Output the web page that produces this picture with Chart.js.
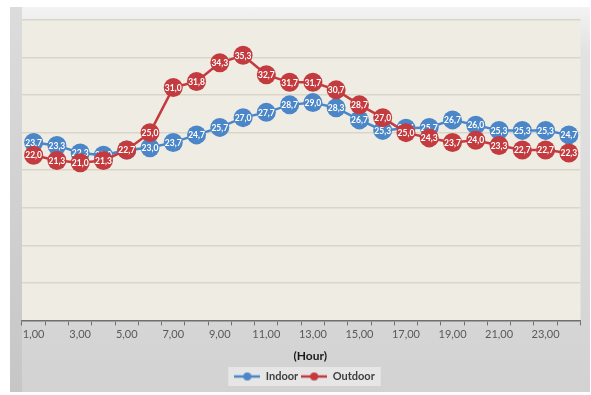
<!DOCTYPE html>
<html>
<head>
<meta charset="utf-8">
<script src="https://cdn.jsdelivr.net/npm/chart.js@4.4.0/dist/chart.umd.min.js"></script>
<style>
  html, body { margin: 0; padding: 0; background: #ffffff; width: 591px; height: 395px; overflow: hidden; }
  #frame {
    position: absolute; left: 10px; top: 7px; width: 580px; height: 385px;
    background: linear-gradient(to bottom, #f3f3f3 0%, #e2e2e2 12%, #dadada 60%, #d2d2d2 100%);
  }
  #frame:before {
    content: ""; position: absolute; left: 0; top: 0; width: 12px; height: 100%;
    background: linear-gradient(to bottom, #dcdcdc, #c6c6c6);
  }
  canvas { position: absolute; left: 0; top: 0; }
</style>
</head>
<body>
<div id="frame"><canvas id="c" width="580" height="385"></canvas></div>
<script>
const hours = [1,2,3,4,5,6,7,8,9,10,11,12,13,14,15,16,17,18,19,20,21,22,23,24];
const indoor = [23.7,23.3,22.3,22.0,22.7,23.0,23.7,24.7,25.7,27.0,27.7,28.7,29.0,28.3,26.7,25.3,25.6,25.7,26.7,26.0,25.3,25.3,25.3,24.7];
const outdoor = [22.0,21.3,21.0,21.3,22.7,25.0,31.0,31.8,34.3,35.3,32.7,31.7,31.7,30.7,28.7,27.0,25.0,24.3,23.7,24.0,23.3,22.7,22.7,22.3];
const seriesNames = ['Indoor','Outdoor'];
const xTitle = '(Hour)';
const yMin = 0, yMax = 40, yStep = 5;

const BLUE = '#4a86c8';
const RED = '#c33b3e';
const fmt = v => v.toFixed(1).replace('.', ',');
const fmtHour = h => h.toFixed(2).replace('.', ',');

function legendIcon(color) {
  const c = document.createElement('canvas');
  c.width = 26; c.height = 10;
  const g = c.getContext('2d');
  g.strokeStyle = color; g.lineWidth = 2.5;
  g.beginPath(); g.moveTo(0, 5); g.lineTo(26, 5); g.stroke();
  g.fillStyle = color;
  g.beginPath(); g.arc(13, 5, 4, 0, Math.PI * 2); g.fill();
  return c;
}

const bgPlugin = {
  id: 'bg',
  beforeDraw(chart) {
    const { ctx, chartArea: a } = chart;
    ctx.save();
    ctx.fillStyle = '#efece3';
    ctx.fillRect(a.left, a.top, a.right - a.left, a.bottom - a.top);
    const L = chart.legend;
    if (L && L.legendHitBoxes && L.legendHitBoxes.length) {
      const hb = L.legendHitBoxes;
      const l = Math.min(...hb.map(h => h.left)) - 6;
      const r = Math.max(...hb.map(h => h.left + h.width)) + 6;
      const t = Math.min(...hb.map(h => h.top)) - 4;
      const b = Math.max(...hb.map(h => h.top + h.height)) + 4;
      ctx.fillStyle = '#e6e6e6';
      ctx.fillRect(l, t, r - l, b - t);
    }
    ctx.restore();
  }
};

const labelPlugin = {
  id: 'vals',
  afterDatasetDraw(chart, args) {
    const { ctx } = chart;
    const ds = chart.data.datasets[args.index];
    ctx.save();
    ctx.font = 'bold 8.5px Lato';
    ctx.fillStyle = '#ffffff';
    ctx.textAlign = 'center';
    ctx.textBaseline = 'middle';
    args.meta.data.forEach((pt, i) => ctx.fillText(fmt(ds.data[i]), pt.x, pt.y + 0.5));
    ctx.restore();
  }
};

new Chart(document.getElementById('c'), {
  type: 'line',
  data: {
    labels: hours.map(fmtHour),
    datasets: [
      { label: seriesNames[0], data: indoor, borderColor: BLUE, backgroundColor: BLUE,
        borderWidth: 2.5, pointRadius: 9.5, pointBorderWidth: 0, pointBackgroundColor: BLUE,
        pointStyle: 'circle', order: 1, tension: 0, legendIcon: legendIcon(BLUE) },
      { label: seriesNames[1], data: outdoor, borderColor: RED, backgroundColor: RED,
        borderWidth: 2.5, pointRadius: 9.5, pointBorderWidth: 0, pointBackgroundColor: RED,
        pointStyle: 'circle', order: 0, tension: 0, legendIcon: legendIcon(RED) }
    ]
  },
  options: {
    responsive: false,
    animation: false,
    devicePixelRatio: 1,
    layout: { padding: { left: 12, right: 3, top: 13, bottom: 0 } },
    plugins: {
      tooltip: { enabled: false },
      legend: {
        position: 'bottom',
        labels: {
          sort: (a, b) => a.datasetIndex - b.datasetIndex,
          usePointStyle: true,
          pointStyleWidth: 26,
          padding: 3,
          boxHeight: 10,
          color: '#404040',
          font: { family: 'Lato', size: 11, weight: 'bold' },
          generateLabels(chart) {
            return chart.data.datasets.map((d, i) => ({
              text: d.label, datasetIndex: i, pointStyle: d.legendIcon,
              fillStyle: d.borderColor, strokeStyle: d.borderColor, lineWidth: 0,
              fontColor: '#404040', hidden: false
            }));
          }
        }
      }
    },
    scales: {
      x: {
        offset: true,
        grid: { offset: true, drawOnChartArea: false, drawTicks: true, tickLength: 5, color: '#6f6f6f', lineWidth: 1 },
        border: { display: true, color: '#6f6f6f', width: 1.5 },
        ticks: {
          autoSkip: false, maxRotation: 0, padding: 2,
          color: '#595959', font: { family: 'Lato', size: 11 },
          callback: function(v, i) { return i % 2 === 0 ? this.getLabelForValue(v) : ''; }
        },
        title: { display: true, text: '\u2002\u2002\u2002' + xTitle, color: '#1a1a1a',
                 font: { family: 'Lato', size: 12, weight: 'bold' }, padding: { top: 6, bottom: 5 } }
      },
      y: {
        min: yMin, max: yMax,
        ticks: { display: false, stepSize: yStep },
        grid: { color: '#d9d5cb', lineWidth: 1.5, drawTicks: false },
        border: { display: false }
      }
    }
  },
  plugins: [bgPlugin, labelPlugin]
});
</script>
</body>
</html>
